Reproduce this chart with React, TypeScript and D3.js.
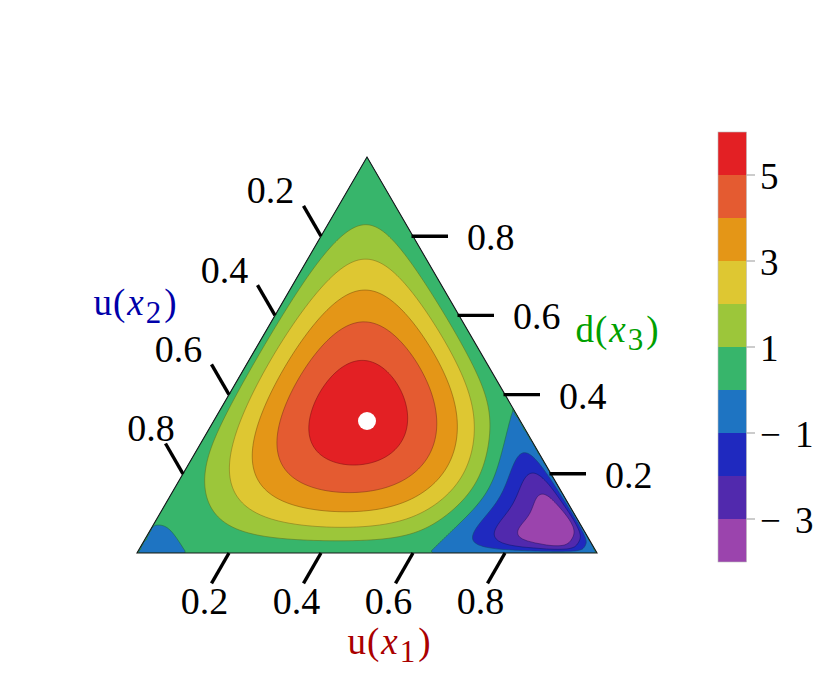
import React, { useMemo } from 'react';
import * as d3 from 'd3';

// ---------- data ----------
const axisTicks = [0.2, 0.4, 0.6, 0.8];
const bandLevels = [-4, -3, -2, -1, 0, 1, 2, 3, 4, 5, 6];
const bandColors = ['#9b44ad', '#5129ad', '#1f29bf', '#1e74c2', '#37b56b', '#9cc63a', '#dec732', '#e49617', '#e45b31', '#e32024'];
const colorbarTicks = [5, 3, 1, -1, -3];
// field model: f = 120 x1 x2 x3 * P(x1, x2, x3) - lobe
const baseCoeffs = [1.4, -0.4];        // a0 + a1 x1
const steepCoeffs = [26, 8.23];        // - k x1^n
const edgeDipCoeffs = [31.3, 9];       // - e x1^m t^2,  t = (x2-x3)/(1-x1)
const x2CornerCoeffs = [3.36, 8];      // - g x2^p
const edgeLayerCoeffs = [2.0, 0.02];   // + d exp(-x1/w) 4 s (1-s),  s = x2/(x2+x3)
const cornerLobeCoeffs = [1.2, 0.915, 0.045]; // - D exp(-((x1-c)/w)^2) 4 s (1-s)
const centerPoint = [1 / 3, 1 / 3, 1 / 3];
const axisTitles = [
  { base: 'u', sub: '1', color: '#aa0000' },
  { base: 'u', sub: '2', color: '#0000aa' },
  { base: 'd', sub: '3', color: '#00a000' },
];

const FONT = "'Liberation Serif', 'Times New Roman', Times, serif";
const W = 830, H = 695;

function field(x1: number, x2: number, x3: number): number {
  const r = Math.max(1 - x1, 1e-9);
  const t = (x2 - x3) / r;
  const s = x2 / r;
  const ss = 4 * s * (1 - s);
  const P =
    baseCoeffs[0] + baseCoeffs[1] * x1
    - steepCoeffs[0] * Math.pow(x1, steepCoeffs[1])
    - edgeDipCoeffs[0] * Math.pow(x1, edgeDipCoeffs[1]) * t * t
    - x2CornerCoeffs[0] * Math.pow(x2, x2CornerCoeffs[1])
    + edgeLayerCoeffs[0] * Math.exp(-x1 / edgeLayerCoeffs[1]) * ss;
  const z = (x1 - cornerLobeCoeffs[1]) / cornerLobeCoeffs[2];
  const lobe = cornerLobeCoeffs[0] * Math.exp(-z * z) * ss;
  return 120 * x1 * x2 * x3 * P - lobe;
}

const sx = d3.scaleLinear().domain([0, 1]).range([137, 597]);
const sy = d3.scaleLinear().domain([0, 1]).range([553, 157]);
const proj = (x1: number, x3: number): [number, number] => [sx(x1 + x3 / 2), sy(x3)];
const cb = d3.scaleLinear().domain([bandLevels[0], bandLevels[bandLevels.length - 1]]).range([562, 132]);

function Title({ x, y, t }: any) {
  return (
    <text x={x} y={y} textAnchor="middle" style={{ fontFamily: FONT }} fontSize={37} fill={t.color}>
      {t.base}
      <tspan dx={1}>(</tspan>
      <tspan dx={2} fontStyle="italic">x</tspan>
      <tspan dx={2} fontSize={31} dy={8}>{t.sub}</tspan>
      <tspan dx={3} dy={-8}>)</tspan>
    </text>
  );
}

export default function App() {
  const { paths, pathGen } = useMemo(() => {
    const step = 2;
    const x0 = 137 - 3 * step, y0 = 157 - 3 * step;
    const nx = Math.ceil(460 / step) + 7, ny = Math.ceil(396 / step) + 7;
    const vals: number[] = new Array(nx * ny);
    for (let j = 0; j < ny; j++) {
      for (let i = 0; i < nx; i++) {
        const px = x0 + i * step, py = y0 + j * step;
        const x3 = sy.invert(py);
        const x1 = sx.invert(px) - x3 / 2;
        const x2 = 1 - x1 - x3;
        vals[j * nx + i] = x1 < 0 || x2 < 0 || x3 < 0 ? 0.5 : field(x1, x2, x3);
      }
    }
    const thr = bandLevels.slice(1, -1);
    const cs = d3.contours().size([nx, ny]).thresholds(thr)(vals);
    const pg = d3.geoPath(
      d3.geoTransform({
        point(x: number, y: number) {
          (this as any).stream.point(x0 + (x - 0.5) * step, y0 + (y - 0.5) * step);
        },
      })
    );
    return { paths: cs, pathGen: pg };
  }, []);

  const A = proj(0, 0), B = proj(1, 0), C = proj(0, 1);
  const tri = `M${A[0]},${A[1]}L${B[0]},${B[1]}L${C[0]},${C[1]}Z`;
  const L = 35;
  const c0 = proj(centerPoint[0], centerPoint[2]);
  const txt = { fontFamily: FONT } as React.CSSProperties;
  const TS = 38;

  return (
    <svg width={W} height={H} style={{ position: 'absolute', left: 0, top: 0, background: '#fff' }}>
      <defs>
        <clipPath id="triClip">
          <path d={tri} />
        </clipPath>
      </defs>
      <g clipPath="url(#triClip)">
        <path d={tri} fill={bandColors[0]} />
        {paths.map((c, k) => {
          const col = bandColors[k + 1];
          return (
            <path
              key={k}
              d={pathGen(c as any) || ''}
              fill={col}
              stroke={d3.color(col)!.darker(1.4).formatHex()}
              strokeOpacity={0.75}
              strokeWidth={0.8}
            />
          );
        })}
      </g>
      <path d={tri} fill="none" stroke="#1a1a1a" strokeWidth={1.1} />
      <circle cx={c0[0]} cy={c0[1]} r={9} fill="#fff" />

      {/* x1 axis (bottom) */}
      {axisTicks.map((t) => {
        const [px, py] = proj(t, 0);
        const ex = px - 0.5 * L, ey = py + 0.866 * L;
        return (
          <g key={'b' + t}>
            <line x1={px} y1={py} x2={ex} y2={ey} stroke="#000" strokeWidth={3.4} />
            <text x={ex - 7} y={ey + 30.5} textAnchor="middle" style={txt} fontSize={TS}>{t.toFixed(1)}</text>
          </g>
        );
      })}
      {/* x2 axis (left) */}
      {axisTicks.map((t) => {
        const [px, py] = proj(0, 1 - t);
        const ex = px - 0.5 * L, ey = py - 0.866 * L;
        return (
          <g key={'l' + t}>
            <line x1={px} y1={py} x2={ex} y2={ey} stroke="#000" strokeWidth={3.4} />
            <text x={Math.max(ex - 33, 151)} y={ey - 2.5} textAnchor="middle" style={txt} fontSize={TS}>{t.toFixed(1)}</text>
          </g>
        );
      })}
      {/* x3 axis (right) */}
      {axisTicks.map((t) => {
        const [px, py] = proj(1 - t, t);
        const ex = px + L;
        return (
          <g key={'r' + t}>
            <line x1={px - 1.5} y1={py} x2={ex} y2={py} stroke="#000" strokeWidth={3.4} />
            <text x={ex + 19} y={py + 14} textAnchor="start" style={txt} fontSize={TS}>{t.toFixed(1)}</text>
          </g>
        );
      })}

      <Title x={389} y={654} t={axisTitles[0]} />
      <Title x={135} y={315} t={axisTitles[1]} />
      <Title x={617} y={342} t={axisTitles[2]} />

      {/* colorbar */}
      <g>
        {bandColors.map((col, k) => (
          <rect key={k} x={718} y={cb(bandLevels[k + 1])} width={28.5} height={cb(bandLevels[k]) - cb(bandLevels[k + 1])} fill={col} />
        ))}
        <rect x={718} y={cb(6)} width={28.5} height={cb(-4) - cb(6)} fill="none" stroke="#bbb" strokeWidth={0.6} />
        {colorbarTicks.map((v) => (
          <g key={'c' + v}>
            <line x1={746.5} x2={755} y1={cb(v)} y2={cb(v)} stroke="#999" strokeWidth={1} />
            <text x={760} y={cb(v) + 14} style={txt} fontSize={37}>
              {v < 0 ? (
                <>
                  <tspan>{'\u2212'}</tspan>
                  <tspan dx={14}>{String(Math.abs(v))}</tspan>
                </>
              ) : (
                String(v)
              )}
            </text>
          </g>
        ))}
      </g>
    </svg>
  );
}
